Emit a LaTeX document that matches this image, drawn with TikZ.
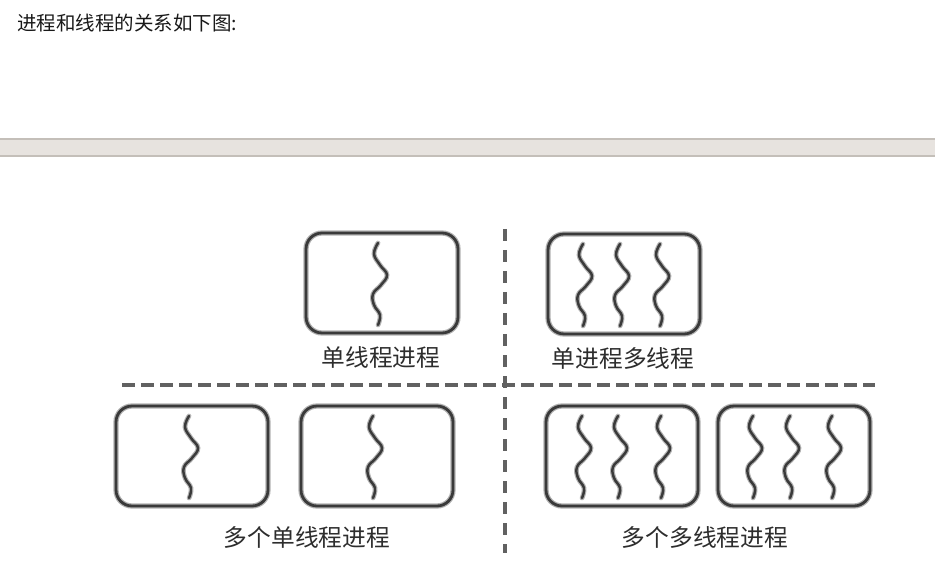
\documentclass[tikz,border=0pt]{standalone}
\usepackage{fontspec}
\setmainfont{Noto Sans CJK SC}
\definecolor{barfill}{RGB}{231,227,223}
\definecolor{barline}{RGB}{196,191,185}
\definecolor{inkgray}{RGB}{58,58,58}
\definecolor{textgray}{RGB}{45,45,45}

\begin{document}
\begin{tikzpicture}[x=0.02cm, y=-0.02cm,
    proc/.style={rectangle, rounded corners=0.32cm, draw=inkgray, line width=1.6pt, preaction={draw=black!30, line width=3pt}, minimum width=3.04cm, minimum height=2cm, inner sep=0pt},
    caption/.style={font=\fontsize{13.5}{16}\selectfont, text=textgray, inner sep=0pt},
    intro/.style={font=\fontsize{11.1}{14}\selectfont, text=black!90, anchor=west, inner sep=0pt},
    divider/.style={line width=1.9pt, draw=black!62},
    thread/.pic={
        \draw[black!30, line width=2.7pt, line cap=round] plot[smooth, tension=0.7] coordinates {(0,-40) (-4,-29) (2,-18) (9,-8) (3,2) (-5,11) (-4,22) (2,32) (0,42)};
        \draw[inkgray, line width=1.4pt, line cap=round] plot[smooth, tension=0.7] coordinates {(0,-40) (-4,-29) (2,-18) (9,-8) (3,2) (-5,11) (-4,22) (2,32) (0,42)};
    }
]
\useasboundingbox (0,0) rectangle (935,563);
\node[intro] (title) at (17,23) {进程和线程的关系如下图:};
% grey bar
\fill[barfill] (0,139) rectangle (935,156);
\draw[barline, line width=0.6pt] (0,139) -- (935,139);
\draw[barline, line width=0.6pt] (0,156) -- (935,156);
% separators
\draw[divider, dash pattern=on 13*0.02cm off 6*0.02cm] (122,385) -- (875,385);
\draw[divider, dash pattern=on 12*0.02cm off 9*0.02cm] (505,229) -- (505,553);
% processes
\node[proc] (single) at (382,283) {};
\node[proc] (multi) at (624,284) {};
\node[proc] (singleA) at (192,456) {};
\node[proc] (singleB) at (377,456) {};
\node[proc] (multiA) at (622,456) {};
\node[proc] (multiB) at (794,456) {};
% threads
\pic at (378,283) {thread};
\pic at (583,284) {thread};
\pic at (620,284) {thread};
\pic at (660,284) {thread};
\pic at (189,456) {thread};
\pic at (373,456) {thread};
\pic at (582,456) {thread};
\pic at (618,456) {thread};
\pic at (661,456) {thread};
\pic at (753,456) {thread};
\pic at (790,456) {thread};
\pic at (832,456) {thread};
% captions
\node[caption] (singlelabel) at (381,357) {单线程进程};
\node[caption] (multilabel) at (623,358) {单进程多线程};
\node[caption] (singleslabel) at (307,537) {多个单线程进程};
\node[caption] (multislabel) at (705,537) {多个多线程进程};
\end{tikzpicture}
\end{document}
